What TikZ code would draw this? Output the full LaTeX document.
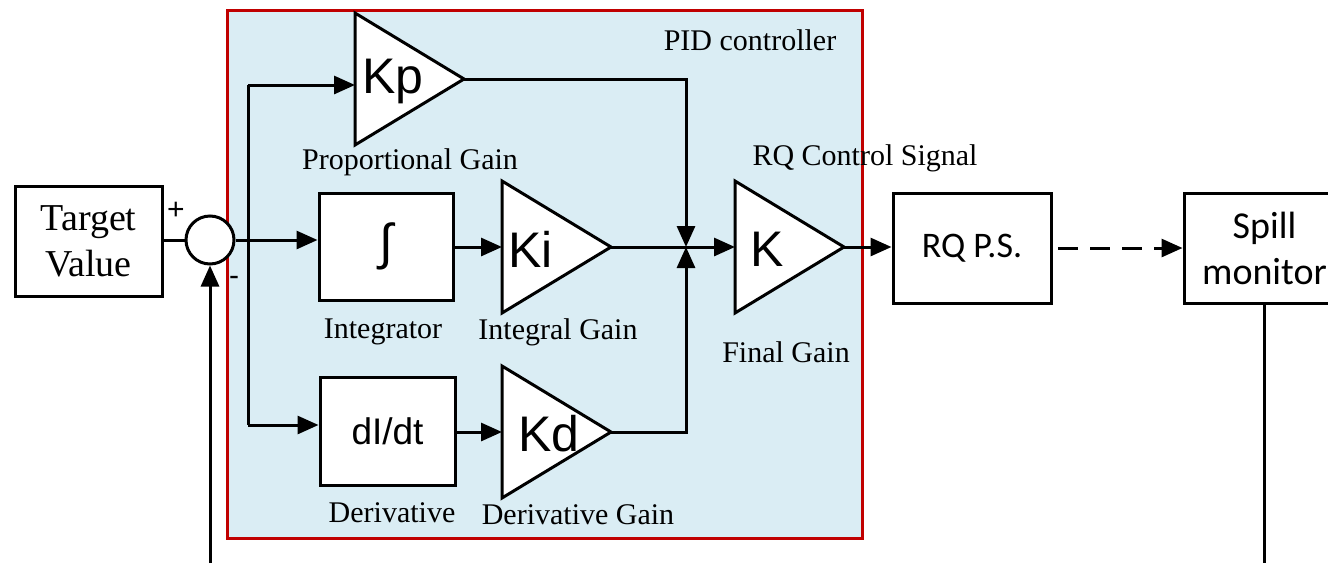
\documentclass[tikz,border=0pt]{standalone}
\usepackage{fontspec}
\setmainfont{Liberation Serif}
\newfontfamily\arialf{Liberation Sans}
\newfontfamily\calibf{Carlito}
\usetikzlibrary{arrows.meta}
\definecolor{pidfill}{HTML}{DAEDF4}
\definecolor{pidred}{HTML}{C00000}

\begin{document}
\begin{tikzpicture}[x=1pt, y=-1pt,
  sig/.style={line width=3pt, line join=miter},
  arr/.style={sig, -{Triangle[length=21pt,width=18pt]}},
  blk/.style={draw, line width=3pt, fill=white, inner sep=0pt},
  lbl/.style={font=\fontsize{30}{35}\selectfont},
  gain/.style={draw, line width=3pt, fill=white, line join=miter}]

\clip (0,0) rectangle (1328,563);

%% PID controller frame
\node[draw=pidred, fill=pidfill, line width=3pt, minimum width=635pt,
  minimum height=528pt, inner sep=0pt] (pid) at (544.5,274) {};
\node[lbl] (pidlab) at (750,40) {PID controller};

%% blocks
\node[blk, minimum width=147pt, minimum height=110pt, align=center,
  font=\fontsize{38}{46}\selectfont] (tv) at (88.5,241) {Target\\Value};
\node[blk, circle, minimum size=48pt] (sum) at (210,240) {};
\node[blk, minimum width=134pt, minimum height=107pt,
  font=\fontsize{50}{50}\arialf] (integ) at (386,246.5) {∫};
\node[blk, minimum width=135pt, minimum height=108pt,
  font=\fontsize{37}{40}\arialf] (deriv) at (387.5,431) {dI/dt};
\node[blk, minimum width=158pt, minimum height=110pt,
  font=\fontsize{36}{42}\calibf] (rqps) at (972,248) {RQ P.S.};
\node[blk, minimum width=161pt, minimum height=110pt, align=center,
  font=\fontsize{38}{46}\calibf] (spill) at (1264.5,248) {Spill\\monitor};

%% gain triangles
\foreach \nm/\lx/\cy/\lab/\tx in {kp/355/79/Kp/362, ki/502/247/Ki/508,
    kd/502/432/Kd/518, fin/735/247/K/750}{
  \draw[gain] (\lx,\cy-66) -- (\lx+109,\cy) coordinate (\nm-out)
    -- (\lx,\cy+66) -- cycle;
  \coordinate (\nm-in) at (\lx,\cy);
  \node[anchor=west, inner sep=0pt, font=\fontsize{50}{56}\arialf]
    (\nm-txt) at (\tx,\cy+2) {\lab};
}

%% signs at the summing point
\node[font=\fontsize{30}{32}\arialf] (plus) at (176,211) {+};
\node[font=\fontsize{30}{32}\arialf] (minus) at (234,281) {-};

%% captions
\node[lbl] (kplab) at (410,162) {Proportional Gain};
\node[lbl] (sigl) at (865,158) {RQ Control Signal};
\node[lbl] (intl) at (383,332) {Integrator};
\node[lbl] (kil) at (558,332) {Integral Gain};
\node[lbl] (finl) at (786,352) {Final Gain};
\node[lbl] (derl) at (392,513) {Derivative};
\node[lbl] (kdl) at (578,515) {Derivative Gain};

%% signal paths
\coordinate (brtop) at (248,85);
\coordinate (brbot) at (248,425);
\coordinate (jn) at (686,247);
\coordinate (dstart) at (1058,248);
\coordinate (fbin) at (210,563);

\draw[sig] (sum.west -| tv.east) -- (sum.west);
\draw[arr] (sum.east) -- (sum.east -| integ.west);
\draw[sig] (brtop) -- (brbot);
\draw[arr] (brtop) -- (brtop -| kp-in);
\draw[arr] (brbot) -- (brbot -| deriv.west);
\draw[arr] (integ.east |- ki-in) -- (ki-in);
\draw[arr] (deriv.east |- kd-in) -- (kd-in);
\draw[arr] (kp-out) -| (jn);
\draw[arr] (kd-out) -| (jn);
\draw[sig] (ki-out) -- (jn);
\draw[arr] (jn) -- (fin-in);
\draw[arr] (fin-out) -- (fin-out -| rqps.west);
\draw[arr, dash pattern=on 20pt off 12pt] (dstart) -- (spill.west);
\draw[arr] (fbin) -- (sum.south);
\draw[sig] (spill.south) -- (spill.south |- fbin);

\end{tikzpicture}
\end{document}
